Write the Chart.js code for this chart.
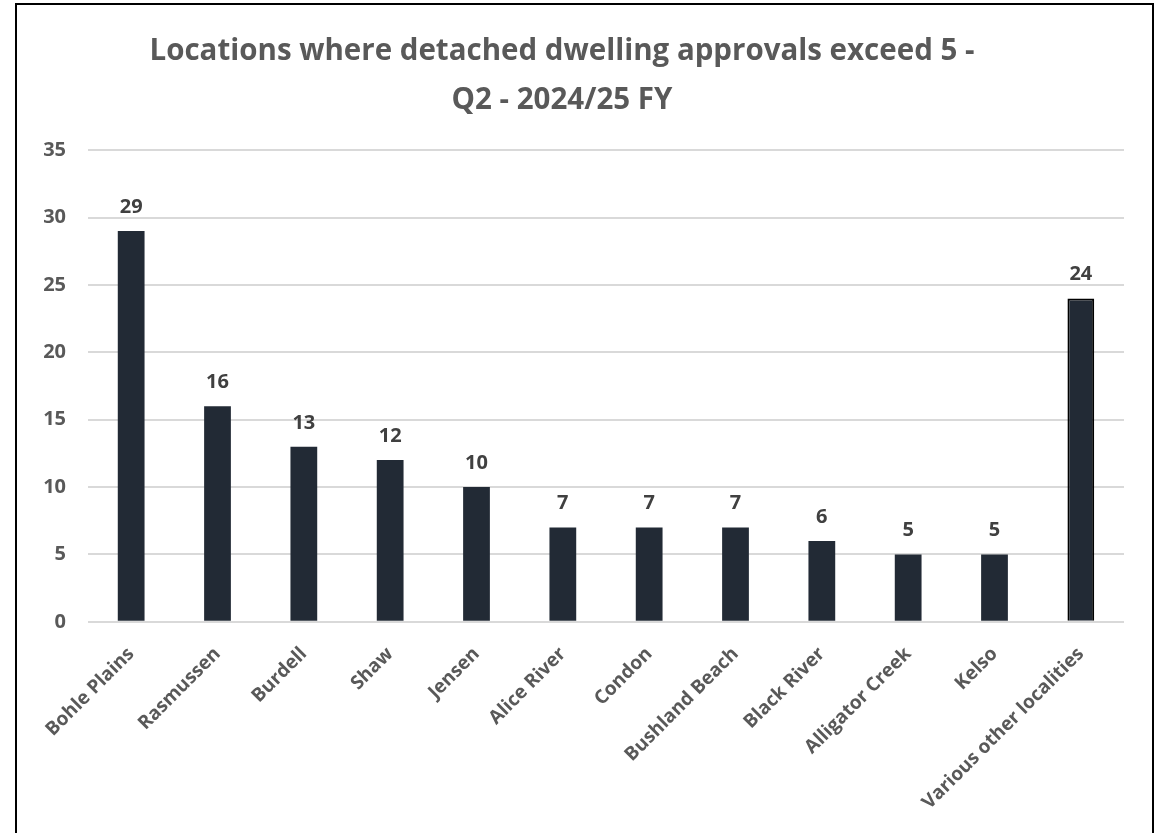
<!DOCTYPE html>
<html>
<head>
<meta charset="utf-8">
<script src="https://cdn.jsdelivr.net/npm/chart.js@4"></script>
<style>
  html, body { margin: 0; padding: 0; background: #fff; overflow: hidden; }
  #frame { position: absolute; left: 15px; top: 3px; width: 1135px; height: 860px; border: 2px solid #000; }
  #wrap { position: absolute; left: 0; top: 0; width: 1165px; height: 833px; }
</style>
</head>
<body>
<div id="frame"></div>
<div id="wrap"><canvas id="chart" width="1165" height="833"></canvas></div>
<script>
const titleLines = ['Locations where detached dwelling approvals exceed 5 -', 'Q2 - 2024/25 FY']
const localities = ['Bohle Plains', 'Rasmussen', 'Burdell', 'Shaw', 'Jensen', 'Alice River',
  'Condon', 'Bushland Beach', 'Black River', 'Alligator Creek', 'Kelso', 'Various other localities']
const approvals = [29, 16, 13, 12, 10, 7, 7, 7, 6, 5, 5, 24]
const yTicks = [0, 5, 10, 15, 20, 25, 30, 35]

const grey = '#595959'

// labels above every bar
const valueLabels = {
  id: 'valueLabels',
  afterDatasetsDraw(chart) {
    const c = chart.ctx
    const meta = chart.getDatasetMeta(0)
    c.save()
    c.font = 'bold 20px "Open Sans"'
    c.fillStyle = '#404040'
    c.textAlign = 'center'
    c.textBaseline = 'alphabetic'
    meta.data.forEach((bar, i) => {
      c.fillText(String(approvals[i]), bar.x, bar.y - 18)
    })
    c.restore()
  }
}

new Chart(document.getElementById('chart').getContext('2d'), {
  type: 'bar',
  data: {
    labels: localities,
    datasets: [{
      data: approvals,
      backgroundColor: '#222a35',
      borderColor: approvals.map((v, i) => i === approvals.length - 1 ? '#000' : '#222a35'),
      borderWidth: approvals.map((v, i) => i === approvals.length - 1 ? 2 : 0),
      barPercentage: 0.31,
      categoryPercentage: 1
    }]
  },
  options: {
    responsive: false,
    animation: false,
    layout: { padding: { left: 0, right: 41, bottom: 6 } },
    plugins: {
      legend: { display: false },
      tooltip: { enabled: false },
      title: {
        display: true,
        text: titleLines,
        color: grey,
        font: { family: '"Open Sans"', size: 29.5, weight: 'bold', lineHeight: 1.63 },
        padding: { top: 28, bottom: 26 }
      }
    },
    scales: {
      x: {
        grid: { display: false },
        border: { display: false },
        afterFit: (axis) => { axis.paddingLeft = 0; axis.paddingRight = 0 },
        ticks: {
          color: grey,
          font: { family: '"Open Sans"', size: 19, weight: 'bold' },
          minRotation: 45,
          maxRotation: 45,
          autoSkip: false,
          padding: 13
        }
      },
      y: {
        min: 0,
        max: 35,
        afterBuildTicks: (axis) => { axis.ticks = yTicks.map((v) => ({ value: v })) },
        afterFit: (axis) => { axis.width = 88 },
        grid: { color: '#d9d9d9', lineWidth: 2, drawTicks: false },
        border: { display: false },
        ticks: {
          color: grey,
          font: { family: '"Open Sans"', size: 20, weight: 'bold' },
          padding: 22
        }
      }
    }
  },
  plugins: [valueLabels]
})
</script>
</body>
</html>
